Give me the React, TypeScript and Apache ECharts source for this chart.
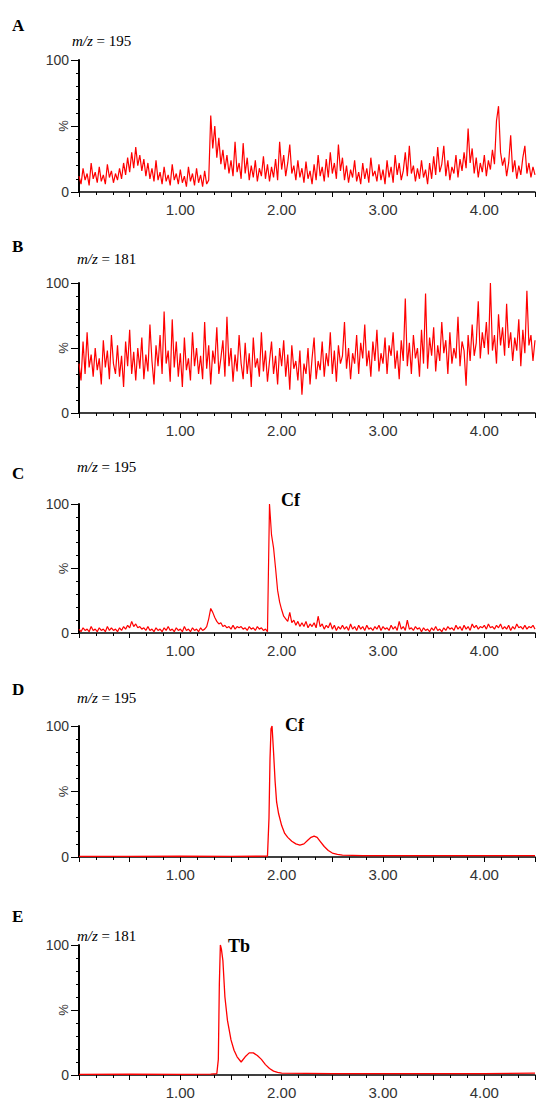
import React, { useEffect, useRef } from "react";
import * as echarts from "echarts";

// ---- data ----
const STEP = 0.02; // minutes between samples of the uniformly sampled traces

const panelLetters = ["A", "B", "C", "D", "E"];
const massValues = ["195", "181", "195", "195", "181"];
const xTickValues = [1, 2, 3, 4];
const yTickValues = [0, 100];
const peakLabels = ["Cf", "Cf", "Tb"];
const yAxisTitle = "%";

const traceA = [
  12, 6, 18, 9, 14, 5, 22, 10, 15, 7,
  19, 8, 13, 6, 21, 11, 16, 7, 14, 9,
  18, 10, 22, 13, 26, 15, 30, 18, 34, 20,
  28, 16, 25, 12, 22, 10, 18, 8, 24, 9,
  15, 6, 19, 8, 13, 5, 21, 9, 14, 6,
  17, 7, 12, 4, 19, 8, 14, 5, 18, 7,
  13, 4, 16, 6, 9, 58, 33, 50, 26, 41,
  21, 32, 17, 28, 14, 24, 12, 38, 15, 22,
  10, 37, 14, 26, 9, 20, 11, 24, 8, 18,
  12, 27, 10, 21, 8, 19, 11, 25, 9, 38,
  17, 28, 12, 22, 36, 14, 20, 9, 24, 11,
  18, 7, 23, 10, 16, 6, 21, 9, 28, 12,
  19, 8, 25, 11, 30, 14, 22, 10, 36, 16,
  26, 9, 20, 7, 17, 11, 24, 8, 15, 6,
  22, 10, 18, 7, 26, 12, 16, 8, 21, 9,
  17, 6, 24, 11, 19, 7, 28, 13, 22, 9,
  16, 30, 12, 35, 14, 20, 8, 18, 10, 24,
  11, 17, 6, 22, 10, 27, 13, 34, 15, 21,
  35, 12, 24, 9, 19, 14, 28, 11, 25, 16,
  30, 18, 48, 22, 33, 14, 26, 11, 22, 15,
  28, 12, 24, 17, 32, 21, 54, 65, 30, 20,
  26, 12, 22, 43, 15, 24, 10, 20, 13, 26,
  35, 14, 22, 11, 19, 13,
];

const traceB = [
  38, 25, 55, 30, 62, 35, 45, 28, 50, 33,
  42, 22, 56, 35, 48, 26, 60, 38, 30, 52,
  28, 44, 20, 55, 36, 64, 30, 47, 25, 50,
  34, 58, 26, 45, 32, 68, 40, 22, 52, 36,
  60, 30, 78, 38, 48, 24, 72, 35, 55, 28,
  46, 20, 58, 33, 42, 25, 62, 36, 50, 30,
  44, 26, 70, 34, 52, 22, 48, 38, 66, 30,
  42, 56, 28, 74, 36, 50, 24, 45, 32, 60,
  38, 26, 54, 30, 46, 20, 58, 35, 42, 28,
  62, 32, 48, 24, 40, 55, 30, 44, 22, 50,
  36, 56, 28, 45, 18, 52, 34, 40, 25, 48,
  14, 38, 30, 50, 22, 42, 58, 26, 40, 33,
  55, 28, 46, 36, 62, 30, 48, 24, 52, 38,
  44, 70, 34, 50, 26, 46, 38, 60, 30, 54,
  42, 68, 36, 48, 28, 55, 40, 64, 32, 46,
  38, 58, 30, 52, 44, 62, 34, 48, 26, 56,
  40, 88, 36, 54, 30, 60, 42, 50, 28, 64,
  38, 92, 34, 58, 44, 66, 32, 52, 40, 70,
  46, 56, 30, 62, 38, 50, 42, 74, 36, 55,
  48, 21, 60, 40, 68, 44, 54, 86, 42, 62,
  50, 70, 45, 100, 48, 60, 38, 76, 52, 66,
  44, 84, 50, 62, 40, 58, 48, 72, 36, 64,
  46, 94, 52, 60, 40, 56,
];

const traceC = [
  3, 1, 4, 2, 3, 1, 5, 2, 3, 1,
  4, 2, 3, 1, 5, 2, 4, 2, 3, 1,
  4, 2, 5, 3, 6, 4, 9, 5, 7, 4,
  5, 3, 4, 2, 5, 2, 3, 1, 4, 2,
  3, 1, 4, 2, 5, 2, 3, 1, 4, 2,
  3, 1, 5, 2, 3, 1, 4, 2, 3, 1,
  4, 2, 3, 5, 11, 19, 16, 12, 9, 7,
  8, 5, 6, 4, 5, 3, 6, 3, 5, 4,
  5, 3, 4, 2, 5, 3, 4, 2, 5, 3,
  4, 2, 3, 1, 100, 76, 66, 50, 33, 24,
  18, 13, 11, 9, 16, 8, 10, 6, 9, 5,
  8, 5, 9, 4, 7, 5, 8, 4, 13, 5,
  7, 3, 6, 4, 8, 3, 6, 2, 5, 3,
  6, 3, 5, 2, 7, 3, 5, 2, 6, 3,
  5, 2, 6, 3, 4, 2, 5, 3, 6, 2,
  5, 3, 4, 2, 6, 3, 5, 2, 9, 3,
  5, 2, 10, 3, 4, 2, 5, 3, 4, 1,
  4, 2, 3, 1, 4, 2, 5, 2, 3, 1,
  4, 2, 5, 3, 4, 2, 6, 3, 5, 2,
  6, 3, 5, 2, 7, 4, 6, 3, 5, 4,
  6, 3, 7, 4, 5, 3, 6, 4, 7, 3,
  5, 3, 6, 2, 5, 3, 7, 4, 5, 3,
  6, 3, 5, 4, 6, 3,
];

const timesD = [0, 0.5, 1.0, 1.5, 1.86, 1.875, 1.885, 1.895, 1.905, 1.92, 1.935, 1.95, 1.97, 2.0, 2.03, 2.06, 2.1, 2.14, 2.18, 2.22, 2.26, 2.29, 2.32, 2.35, 2.38, 2.42, 2.46, 2.5, 2.55, 2.6, 2.8, 3.0, 3.5, 4.0, 4.5];
const valuesD = [0.5, 0.5, 0.6, 0.5, 0.6, 30, 75, 98, 100, 80, 58, 42, 33, 24, 18, 15, 12, 10, 9, 10, 13, 15, 16, 15, 12, 8, 5, 3, 2, 1.5, 1, 1, 1, 1, 1];

const timesE = [0, 0.5, 1.0, 1.3, 1.36, 1.375, 1.385, 1.395, 1.405, 1.42, 1.44, 1.465, 1.5, 1.53, 1.56, 1.6, 1.64, 1.68, 1.72, 1.76, 1.8, 1.84, 1.88, 1.92, 1.96, 2.0, 2.5, 3.0, 3.5, 4.0, 4.5];
const valuesE = [0.5, 0.6, 0.5, 0.6, 1, 12, 70, 100, 97, 88, 60, 42, 27, 19, 14, 10, 14, 17, 17, 15, 12, 8, 5, 3, 2, 1.5, 1, 1, 1, 1, 1.5];

// ---- layout ----
const W = 538;
const H = 1103;
const GRID_LEFT = 79;
const GRID_WIDTH = 463;
const panelTops = [60, 283, 504, 726, 945];
const panelHeights = [132, 130, 129, 131, 130];
const letterY = [25, 246, 473, 689, 916];
const massPos = [
  [72, 41],
  [77, 259],
  [77, 467],
  [77, 698],
  [77, 936],
];
const peakPos = [
  [281, 500],
  [285, 725],
  [228, 946],
];

const uniform = (arr: number[]) => arr.map((v, i) => [+(i * STEP).toFixed(2), v]);
const paired = (t: number[], v: number[]) => t.map((x, i) => [x, v[i]]);

export default function App() {
  const ref = useRef<HTMLDivElement>(null);

  useEffect(() => {
    if (!ref.current) return;
    const chart = echarts.init(ref.current, undefined, { renderer: "svg" });

    const traces = [
      uniform(traceA),
      uniform(traceB),
      uniform(traceC),
      paired(timesD, valuesD),
      paired(timesE, valuesE),
    ];

    const grids = panelTops.map((top, k) => ({
      left: GRID_LEFT,
      top,
      width: GRID_WIDTH,
      height: panelHeights[k],
      containLabel: false,
    }));

    const xAxes = panelTops.map((_, k) => ({
      gridIndex: k,
      type: "value",
      min: 0,
      max: 4.5,
      interval: 0.5,
      axisLine: { show: true, lineStyle: { color: "#000", width: 1.5 } },
      axisTick: { show: true, inside: false, length: 5, lineStyle: { color: "#000", width: 1 } },
      minorTick: { show: true, splitNumber: 3, length: 3, lineStyle: { color: "#000", width: 1 } },
      splitLine: { show: false },
      axisLabel: {
        formatter: (v: number) => (xTickValues.includes(v) ? v.toFixed(2) : ""),
        margin: 10,
        fontSize: 15,
        color: "#333",
        fontFamily: "Liberation Sans",
      },
    }));

    const yAxes = panelTops.map((_, k) => ({
      gridIndex: k,
      type: "value",
      min: 0,
      max: 100,
      interval: 50,
      axisLine: { show: true, lineStyle: { color: "#000", width: 2 } },
      axisTick: { show: true, inside: false, length: 8, lineStyle: { color: "#000", width: 1 } },
      minorTick: { show: true, splitNumber: 5, length: 3, lineStyle: { color: "#000", width: 1 } },
      splitLine: { show: false },
      axisLabel: {
        formatter: (v: number) => (yTickValues.includes(v) ? String(v) : ""),
        margin: 10,
        fontSize: 14,
        color: "#333",
        fontFamily: "Liberation Sans",
      },
    }));

    const series = traces.map((data, k) => ({
      type: "line",
      xAxisIndex: k,
      yAxisIndex: k,
      data,
      showSymbol: false,
      symbol: "none",
      lineStyle: { color: "#ff0000", width: k >= 3 ? 1.3 : 1.2 },
      z: 3,
    }));

    const graphic: any[] = [];
    panelLetters.forEach((L, k) => {
      graphic.push({
        type: "text",
        x: 12,
        y: letterY[k],
        style: {
          text: L,
          font: 'bold 17px "Liberation Serif"',
          fill: "#000",
          verticalAlign: "middle",
        },
      });
      graphic.push({
        type: "text",
        x: massPos[k][0],
        y: massPos[k][1],
        style: {
          text: "{i|m/z} = " + massValues[k],
          fontFamily: "Liberation Serif",
          fontSize: 15,
          fill: "#000",
          verticalAlign: "middle",
          rich: {
            i: { fontStyle: "italic", fontFamily: "Liberation Serif", fontSize: 15, fill: "#000" },
          },
        },
      });
      graphic.push({
        type: "text",
        x: 63,
        y: panelTops[k] + panelHeights[k] / 2,
        rotation: Math.PI / 2,
        style: {
          text: yAxisTitle,
          font: '13px "Liberation Sans"',
          fill: "#333",
          align: "center",
          verticalAlign: "middle",
        },
      });
    });
    peakLabels.forEach((P, k) => {
      graphic.push({
        type: "text",
        x: peakPos[k][0],
        y: peakPos[k][1],
        style: {
          text: P,
          font: 'bold 18px "Liberation Serif"',
          fill: "#000",
          verticalAlign: "middle",
        },
      });
    });

    chart.setOption({
      animation: false,
      backgroundColor: "#fff",
      grid: grids,
      xAxis: xAxes,
      yAxis: yAxes,
      series,
      graphic,
    } as any);

    return () => chart.dispose();
  }, []);

  return (
    <div
      ref={ref}
      style={{ position: "absolute", left: 0, top: 0, width: W, height: H, background: "#fff", overflow: "hidden" }}
    />
  );
}
